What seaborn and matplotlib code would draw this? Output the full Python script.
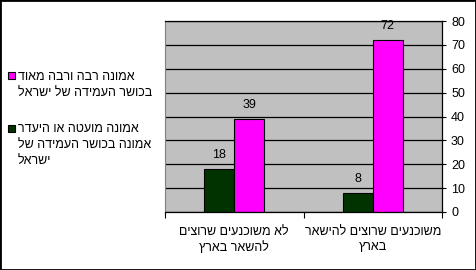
import matplotlib
matplotlib.use("Agg")
import matplotlib.pyplot as plt
import seaborn as sns
import pandas as pd
from matplotlib.patches import Rectangle

# ---- data (logical Hebrew order) ----
categories = ["לא משוכנעים שרוצים\nלהשאר בארץ", "משוכנעים שרוצים להישאר\nבארץ"]
series_names = [
    "אמונה מועטה או היעדר\nאמונה בכושר העמידה של\nישראל",
    "אמונה רבה ורבה מאוד\nבכושר העמידה של ישראל",
]
low_values = [18, 8]
high_values = [39, 72]
y_ticks = [0, 10, 20, 30, 40, 50, 60, 70, 80]

GREEN = "#003300"
PINK = "#FF00FF"
FS = 9
W, H = 476, 270


def vis(s):
    """Visual (right-to-left) order for each line, since matplotlib has no bidi."""
    return "\n".join(line[::-1] for line in s.split("\n"))


plt.rcParams["font.family"] = ["Liberation Sans", "DejaVu Sans"]

df = pd.DataFrame({
    "category": [vis(c) for c in categories] * 2,
    "series": [series_names[0]] * 2 + [series_names[1]] * 2,
    "value": low_values + high_values,
})

fig = plt.figure(figsize=(W / 100, H / 100), dpi=100)
ax = fig.add_axes([165 / W, 1 - 212 / H, (442 - 165) / W, (212 - 21) / H])
ax.set_facecolor("#C0C0C0")

sns.barplot(data=df, x="category", y="value", hue="series",
            order=[vis(c) for c in categories], hue_order=series_names,
            palette=[GREEN, PINK], width=0.43, edgecolor="black",
            linewidth=0.8, ax=ax, legend=False, saturation=1)

for cont in ax.containers:
    ax.bar_label(cont, padding=6, fontsize=FS)

ax.set_ylim(0, 80)
ax.set_xlim(-0.5, 1.5)
ax.set_yticks(y_ticks)
ax.yaxis.tick_right()
ax.tick_params(axis="y", direction="out", length=3, width=0.8, pad=3.5, labelsize=FS)
ax.set_axisbelow(True)
ax.yaxis.grid(True, color="black", linewidth=0.9)
ax.xaxis.grid(False)
ax.set_xlabel("")
ax.set_ylabel("")
ax.tick_params(axis="x", which="major", length=0, pad=10, labelsize=FS)
for lab in ax.get_xticklabels():
    lab.set_linespacing(1.35)
ax.set_xticks([-0.5, 0.5, 1.5], minor=True)
ax.tick_params(axis="x", which="minor", length=4, width=0.8, direction="out")

for side in ["top", "right", "bottom"]:
    ax.spines[side].set_color("black")
    ax.spines[side].set_linewidth(0.9)
ax.spines["left"].set_color("#808080")

# ---- legend (drawn at left, marker beside first line of each entry) ----
legend_entries = [
    (PINK, series_names[1], 72, [80, 96]),
    (GREEN, series_names[0], 125, [132, 148, 164]),
]
for color, name, marker_top, baselines in legend_entries:
    fig.patches.append(Rectangle((8 / W, 1 - (marker_top + 7) / H), 7 / W, 7 / H,
                                 transform=fig.transFigure, facecolor=color,
                                 edgecolor="black", linewidth=0.8))
    for line, base in zip(name.split("\n"), baselines):
        fig.text(18 / W, 1 - base / H, line[::-1], fontsize=FS, ha="left",
                 va="baseline")

fig.patches.append(Rectangle((0, 0), 1, 1, transform=fig.transFigure, fill=False,
                             edgecolor="black", linewidth=2))

fig.savefig("out.png", dpi=100)
